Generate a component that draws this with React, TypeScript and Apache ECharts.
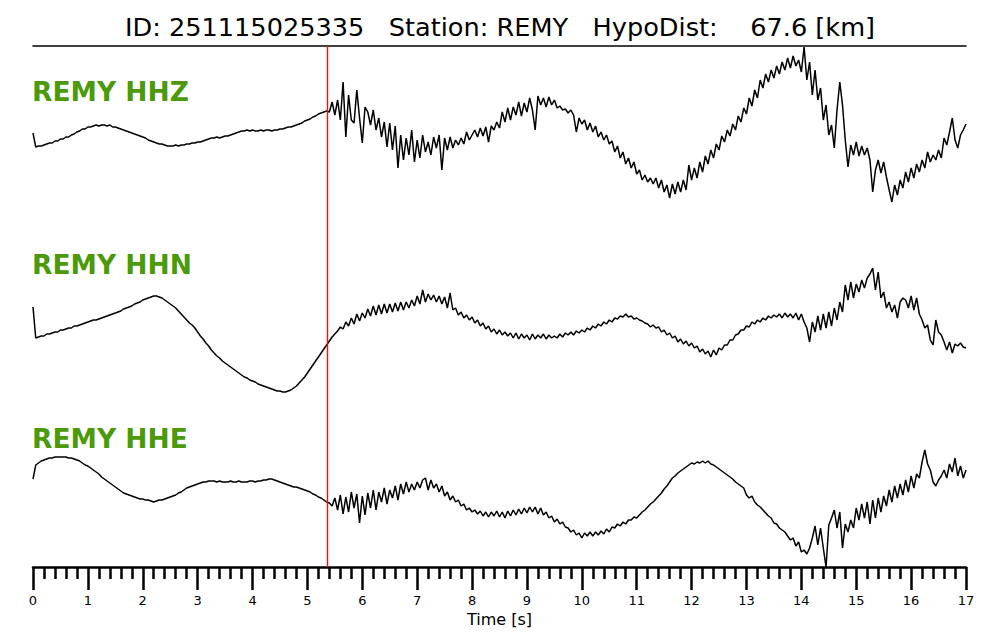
import React, { useEffect, useRef } from "react";
import * as echarts from "echarts";

// sample interval [s]
const DT = 0.05;
// P-wave pick time [s]
const P_PICK = 5.36;
const TITLE = "ID: 251115025335   Station: REMY   HypoDist:    67.6 [km]";
const CHANNELS = ["REMY HHZ", "REMY HHN", "REMY HHE"];
// vertical offsets of the three traces (plot units)
const OFFSETS = [427, 237, 77];

// normalized amplitudes, one sample per DT, t = 0 .. 17 s
const hhz = [
  7, -7, -6, -6, -5, -4, -3, -3, -1, -1,
  1, 1, 3, 3, 5, 6, 8, 9, 11, 11,
  13, 13, 14, 15, 14, 15, 15, 14, 15, 13,
  13, 12, 11, 10, 9, 8, 7, 6, 5, 4,
  3, 2, 0, -1, -2, -3, -4, -4, -5, -6,
  -6, -6, -5, -6, -5, -5, -4, -4, -3, -3,
  -2, -2, -1, 0, 1, 2, 2, 3, 2, 3,
  4, 4, 5, 6, 7, 8, 9, 9, 10, 9,
  10, 9, 9, 10, 9, 10, 10, 9, 10, 10,
  11, 11, 12, 13, 13, 14, 15, 16, 17, 19,
  20, 21, 23, 24, 26, 27, 28, 29, 28, 38,
  25, 40, 20, 58, 3, 45, 20, 17, 50, 22,
  -3, 33, 28, 15, 30, 10, 22, 3, 18, -7,
  17, -10, 14, -28, 5, -20, 2, -15, 10, -22,
  0, -18, 5, -12, -2, -15, 3, -8, 5, -30,
  2, -10, 3, -8, 0, -5, 2, -4, 8, 0,
  5, 10, 3, 12, 4, 13, -2, 14, 10, 18,
  12, 28, 18, 32, 20, 33, 25, 38, 24, 37,
  28, 42, 30, 10, 44, 35, 42, 33, 43, 35,
  40, 32, 34, 30, 31, 27, 30, 25, 8, 22,
  16, 20, 10, 17, 8, 14, 3, 8, 0, 5,
  -4, -1, -12, -6, -18, -12, -24, -18, -28, -22,
  -34, -30, -40, -35, -42, -38, -44, -38, -48, -40,
  -52, -45, -58, -44, -54, -42, -52, -40, -50, -25,
  -40, -28, -38, -22, -32, -16, -24, -10, -18, -4,
  -10, 4, -2, 10, 4, 16, 10, 24, 18, 32,
  26, 42, 34, 50, 42, 60, 52, 66, 58, 70,
  62, 74, 66, 78, 70, 82, 72, 84, 74, 80,
  68, 93, 60, 78, 45, 70, 40, 52, 20, 35,
  5, 15, -8, 30, 58, 35, 0, -27, -5, -15,
  -2, -16, -6, -15, -8, -20, -52, -30, -20, -33,
  -22, -37, -50, -62, -45, -55, -40, -48, -32, -42,
  -28, -38, -24, -32, -20, -28, -12, -22, -15, -20,
  -10, -18, 2, -5, 8, 22, 0, -8, 5, 10,
  16,
];

const hhn = [
  23, -8, -7, -6, -6, -4, -4, -3, -2, -2,
  0, 0, 1, 2, 2, 4, 4, 5, 6, 7,
  8, 9, 10, 10, 11, 12, 13, 14, 15, 16,
  17, 18, 19, 21, 22, 23, 24, 26, 27, 28,
  30, 31, 32, 33, 34, 34, 33, 32, 30, 28,
  26, 24, 22, 19, 16, 13, 10, 7, 5, 2,
  -2, -6, -9, -13, -16, -20, -23, -26, -28, -31,
  -33, -35, -37, -39, -41, -43, -45, -47, -48, -50,
  -51, -52, -54, -55, -56, -57, -58, -59, -60, -61,
  -61, -62, -62, -61, -60, -58, -56, -53, -50, -47,
  -43, -39, -35, -31, -27, -23, -19, -15, -11, -7,
  -4, -1, 3, 1, 8, 4, 12, 6, 16, 9,
  17, 12, 21, 14, 24, 15, 25, 16, 26, 17,
  26, 18, 27, 19, 28, 20, 28, 22, 30, 24,
  34, 26, 40, 28, 36, 30, 35, 28, 34, 26,
  33, 22, 37, 20, 22, 15, 18, 12, 15, 10,
  13, 7, 10, 4, 7, 1, 4, -2, 1, -4,
  0, -5, -2, -6, -3, -8, -3, -9, -4, -8,
  -5, -10, -4, -9, -5, -8, -4, -9, -5, -8,
  -6, -8, -4, -7, -3, -5, -2, -5, -1, -3,
  0, -2, 2, 0, 4, 2, 6, 4, 8, 6,
  10, 8, 12, 11, 14, 13, 16, 13, 14, 11,
  12, 10, 9, 7, 6, 3, 5, 2, 3, -2,
  0, -5, -3, -8, -6, -12, -9, -14, -11, -16,
  -13, -18, -16, -22, -19, -24, -21, -27, -20, -25,
  -18, -20, -15, -15, -10, -10, -5, -4, 0, 0,
  4, 3, 8, 6, 10, 8, 12, 10, 14, 12,
  15, 13, 16, 12, 17, 13, 16, 12, 17, 10,
  16, 8, 2, -12, 8, -2, 14, 0, 16, 2,
  18, 4, 22, 10, 28, 18, 45, 30, 48, 32,
  46, 38, 50, 42, 52, 56, 62, 40, 58, 32,
  38, 22, 28, 18, 25, 12, 28, 32, 30, 22,
  34, 20, 32, 16, 10, 2, 5, -10, -15, 10,
  -2, -5, -12, -20, -12, -23, -14, -16, -13, -17,
  -18,
];

const hhe = [
  11, 25, 27, 29, 30, 31, 32, 32, 33, 33,
  33, 33, 33, 32, 32, 31, 30, 29, 27, 25,
  24, 22, 20, 18, 16, 13, 11, 9, 7, 5,
  3, 1, -1, -3, -4, -5, -6, -7, -8, -9,
  -9, -10, -10, -11, -12, -11, -10, -10, -9, -8,
  -7, -6, -5, -3, -2, 0, 2, 3, 4, 5,
  6, 7, 8, 8, 9, 9, 9, 8, 9, 8,
  8, 8, 9, 8, 8, 9, 8, 8, 8, 9,
  9, 8, 9, 9, 10, 10, 11, 11, 10, 9,
  8, 7, 6, 5, 4, 3, 3, 2, 1, 0,
  -1, -2, -4, -5, -7, -8, -10, -12, -13, -16,
  -8, -20, -5, -24, -7, -22, -2, -18, -4, -33,
  -6, -25, -3, -18, 0, -20, -2, -12, 2, -14,
  0, -8, 4, -10, 6, -4, 8, -2, 6, 0,
  8, 2, 10, 12, 0, 10, 2, 6, -2, 4,
  -6, -2, -10, -6, -12, -10, -16, -14, -20, -18,
  -22, -20, -24, -21, -26, -22, -27, -22, -26, -21,
  -27, -22, -28, -21, -26, -20, -25, -19, -24, -18,
  -23, -17, -22, -17, -24, -18, -25, -22, -28, -26,
  -32, -29, -34, -32, -37, -38, -42, -40, -45, -43,
  -48, -43, -46, -42, -46, -42, -45, -41, -44, -39,
  -42, -37, -38, -34, -36, -32, -34, -30, -30, -27,
  -28, -25, -22, -20, -17, -14, -12, -9, -6, -3,
  1, 4, 8, 12, 14, 17, 19, 21, 23, 25,
  27, 26, 28, 27, 29, 27, 29, 26, 25, 23,
  21, 19, 17, 15, 13, 11, 8, 6, 4, 2,
  -5, -8, -6, -12, -15, -17, -20, -23, -26, -28,
  -33, -34, -38, -40, -42, -46, -50, -48, -56, -52,
  -62, -60, -64, -58, -48, -36, -55, -38, -58, -77,
  -35, -28, -20, -38, -22, -58, -34, -42, -30, -38,
  -18, -30, -14, -28, -12, -34, -10, -28, -8, -22,
  -6, -16, 0, -12, 4, -8, 6, -5, 10, -2,
  14, 2, 16, 12, 28, 40, 26, 20, 8, 4,
  10, 14, 20, 12, 26, 18, 32, 14, 24, 12,
  20,
];

const TRACES = [hhz, hhn, hhe];
const LABEL_TOPS = [73, 246, 420];

export default function App() {
  const ref = useRef<HTMLDivElement>(null);
  useEffect(() => {
    if (!ref.current) return;
    const chart = echarts.init(ref.current, null, { renderer: "svg" });
    const series: any[] = TRACES.map((tr, k) => ({
      type: "line",
      name: CHANNELS[k],
      data: tr.map((v, i) => [+(i * DT).toFixed(2), OFFSETS[k] + v]),
      showSymbol: false,
      symbol: "none",
      silent: true,
      lineStyle: { color: "#000", width: 1.5 },
      itemStyle: { color: "#000" },
      markLine:
        k === 0
          ? {
              silent: true,
              symbol: ["none", "none"],
              label: { show: false },
              lineStyle: { color: "#f01010", width: 1.4, type: "solid" },
              data: [{ xAxis: P_PICK }],
            }
          : undefined,
    }));
    chart.setOption({
      animation: false,
      textStyle: { fontFamily: "DejaVu Sans" },
      title: [
        {
          text: TITLE,
          left: "center",
          top: 9,
          textStyle: { fontFamily: "DejaVu Sans", fontSize: 25.6, fontWeight: "normal", color: "#000" },
        },
        ...CHANNELS.map((c, k) => ({
          text: c,
          left: 27,
          top: LABEL_TOPS[k],
          textStyle: { fontFamily: "DejaVu Sans", fontSize: 26.5, fontWeight: "bold", color: "#4c9a0a" },
        })),
      ],
      grid: { left: 33, right: 34, top: 46, bottom: 73 },
      xAxis: [
        {
          type: "value",
          position: "bottom",
          min: 0,
          max: 17,
          interval: 1,
          axisLine: { lineStyle: { color: "#000", width: 2.5 } },
          axisTick: { length: 23, lineStyle: { color: "#000", width: 2.5 } },
          minorTick: { show: true, splitNumber: 5, length: 12, lineStyle: { color: "#000", width: 2.5 } },
          splitLine: { show: false },
          minorSplitLine: { show: false },
          axisLabel: { fontSize: 13, color: "#000", margin: 27 },
          name: "Time [s]",
          nameLocation: "middle",
          nameGap: 40,
          nameTextStyle: { fontSize: 16, color: "#000" },
        },
        {
          type: "value",
          position: "top",
          min: 0,
          max: 17,
          axisLine: { show: true, lineStyle: { color: "#000", width: 1.5 } },
          axisTick: { show: false },
          axisLabel: { show: false },
          splitLine: { show: false },
        },
      ],
      yAxis: { type: "value", min: 0, max: 521, show: false },
      series,
    });
    return () => chart.dispose();
  }, []);
  return (
    <div
      ref={ref}
      style={{ position: "fixed", left: 0, top: 0, width: 1000, height: 640, background: "#fff" }}
    />
  );
}
